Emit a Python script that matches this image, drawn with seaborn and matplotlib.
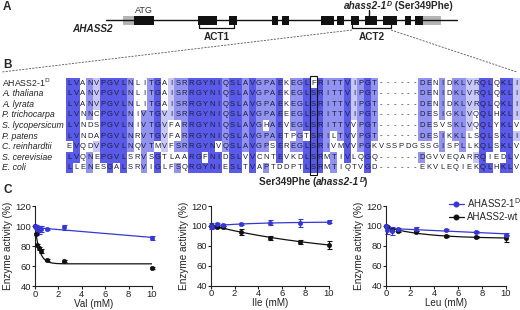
import numpy as np
import matplotlib
matplotlib.use("Agg")
import matplotlib.pyplot as plt
import seaborn as sns
from matplotlib.colors import ListedColormap
from matplotlib.patches import Rectangle
from matplotlib.lines import Line2D
from collections import Counter

# ---- data ----
# gene model (A), positions along the drawn gene
gene_span = [106, 457]
exon_starts = [134, 198, 229, 272, 282, 321, 337, 351, 365, 383, 405, 415]
exon_ends = [154, 217, 237, 278, 289, 334, 344, 359, 377, 397, 411, 423]
utr_starts = [123, 423]
utr_ends = [134, 441]
domain_names = ['ACT1', 'ACT2']
domain_starts = [199, 352]
domain_ends = [234, 391]
mutation_pos = 369

# alignment (B)
species = ['AHASS2-1$^{\\mathrm{D}}$', 'A. thaliana', 'A. lyrata', 'P. trichocarpa',
           'S. lycopersicum', 'P. patens', 'C. reinhardtii', 'S. cerevisiae', 'E. coli']
alignment_seqs = [
    'LVANVPGVLNLITGAISRRGYNIQSLAVGPAEKEGLFRITTVIPGT------DENIDKLVRQLQKLI',
    'LVANVPGVLNLITGAISRRGYNIQSLAVGPAEKEGLSRITTVIPGT------DENIDKLVRQLQKLI',
    'LVANVPGVLNLITGAISRRGYNIQSLAVGPAEKEGLSRITTVIPGT------DENIDKLVRQLQKLI',
    'LVNNCPGVLNIVTGVISRRGYNIQSLAVGPAEEEGLSRITTVIPGT------DESIGKLVQQLHKLI',
    'LVNDSPGVLNIVTGVFARRGYNIQSLAVGHAEVEGLSRITTVVPGT------DESVSKLVQQLYKLV',
    'LVNDAPGVLNRVTGVFARRGYNIQSLAVGPAETPGTSRILTVVPGT------DESIKKLLSQLSKLI',
    'EVQDVPGVLNQVTMVFSRRGYNVQSLAVGPSEREGLSRIVMVVPGKVSSPDGSSGISPLLKQLSKLV',
    'LVQNEPGVLSRVSGTLAARGFNIDSLVVCNTEVKDLSRMTIVLQGQ------DGVVEQARRQIEDLV',
    'LLENESGALSRVIGLFSQRGYNIESLTVAPTDDPTLSRMTIQTVGD------EKVLEQIEKQLHKLV',
]
mutated_column = 36

# enzyme activity (C)
val_conc = [0, 0.1, 0.2, 0.3, 0.5, 1, 2.5, 10]
val_wt = [100, 92, 81, 78, 75, 66, 65, 58]
val_wt_err = [1, 1, 1, 1.5, 2, 1, 1, 1]
val_mut = [100, 99, 97, 96, 97, 97, 99, 88]
val_mut_err = [1, 2, 3, 4, 3, 1, 2.5, 2]

ile_conc = [0, 0.1, 0.5, 1, 2.5, 5, 7.5, 10]
ile_wt = [100, 100, 99, 98.5, 94, 88, 84, 81]
ile_wt_err = [1, 1, 1, 1, 3, 2, 2, 4]
ile_mut = [100, 99, 101.5, 101, 101.5, 103, 103, 104]
ile_mut_err = [3, 1, 1, 1, 1, 2.5, 4, 1.5]

leu_conc = [0, 0.1, 0.5, 1, 2.5, 5, 7.5, 10]
leu_wt = [100, 98.5, 96, 95, 93.5, 90, 88.5, 87.5]
leu_wt_err = [1, 1, 1, 1, 1, 1, 1, 3.5]
leu_mut = [100, 96, 95, 97, 97, 95.5, 94, 91]
leu_mut_err = [1, 4, 4, 1, 2, 1, 1, 1.5]

BLUE = '#3636d6'
BLACK = '#111111'

sns.set_theme(style='ticks')
plt.rcParams['font.family'] = ['Liberation Sans', 'DejaVu Sans']

fig = plt.figure(figsize=(5.2, 3.1), dpi=100)
fig.patch.set_facecolor('white')
W, H = 520, 310


def px_axes(x0, y0, x1, y1):
    return fig.add_axes([x0 / W, 1 - y1 / H, (x1 - x0) / W, (y1 - y0) / H])


# overlay axes in pixel units for diagram + text
ax0 = fig.add_axes([0, 0, 1, 1])
ax0.set_xlim(0, W)
ax0.set_ylim(H, 0)
ax0.axis('off')
renderer = fig.canvas.get_renderer()


def rich(ax, x, y, parts, ha='left', **common):
    # put several styled pieces of text side by side
    texts, cx = [], x
    for s, kw, dy in parts:
        props = dict(common)
        props.update(kw)
        t = ax.text(cx, y + dy, s, va='center', ha='left', **props)
        cx += t.get_window_extent(renderer).width
        texts.append(t)
    if ha == 'center':
        shift = (cx - x) / 2
        for t in texts:
            px, py = t.get_position()
            t.set_x(px - shift)


# panel letters
for lab, yy in zip(['A', 'B', 'C'], [7, 65, 190]):
    ax0.text(3, yy, lab, fontsize=8.5, fontweight='bold', va='center')

# ---- A: gene model ----
ax0.plot(gene_span, [20, 20], color=BLACK, lw=1)
for s, e in zip(utr_starts, utr_ends):
    ax0.add_patch(Rectangle((s, 15.5), e - s, 9, color='#b4b4b4', lw=0))
for s, e in zip(exon_starts, exon_ends):
    ax0.add_patch(Rectangle((s, 15.5), e - s, 9, color=BLACK, lw=0))
ax0.text(144, 10.5, 'ATG', fontsize=6.5, ha='center', va='center', color='#333333')
ax0.text(93, 28.5, 'AHASS2', fontsize=7.2, fontweight='bold', fontstyle='italic',
         ha='center', va='center')
for name, s, e in zip(domain_names, domain_starts, domain_ends):
    ax0.plot([s, s, e, e], [25, 28, 28, 25], color=BLACK, lw=0.9)
    ax0.text((s + e) / 2, 37.5, name, fontsize=7.2, fontweight='bold', ha='center', va='center')
ax0.plot([mutation_pos, mutation_pos], [10, 16], color=BLACK, lw=1)
rich(ax0, 398, 6, [('ahass2-1', dict(fontstyle='italic'), 0),
                   ('D', dict(fontstyle='italic', fontsize=5), -2),
                   (' (Ser349Phe)', {}, 0)], ha='center', fontsize=7.2, fontweight='bold')
ax0.plot([domain_starts[1], 2], [30, 72], color='#555555', lw=0.6, ls=(0, (2.5, 1.5)))
ax0.plot([domain_ends[1], 517], [30, 72], color='#555555', lw=0.6, ls=(0, (2.5, 1.5)))

# ---- B: alignment as heatmap ----
seqs = np.array([list(s) for s in alignment_seqs])
n_rows, n_cols = seqs.shape
levels = np.zeros((n_rows, n_cols))
for j in range(n_cols):
    col = seqs[:, j]
    res = [c for c in col if c != '-']
    if not res:
        continue
    cons, cnt = Counter(res).most_common(1)[0]
    frac = cnt / n_rows
    lvl = 3 if frac > 0.8 else 2 if frac > 0.6 else 1 if frac > 0.4 else 0
    levels[col == cons, j] = lvl

aln_x0, aln_x1, aln_y0, aln_y1 = 66, 520, 77.7, 173.3
axb = px_axes(aln_x0, aln_y0, aln_x1, aln_y1)
cmap = ListedColormap(['#ffffff', '#c8c8f8', '#9292f0', '#5a5ae8'])
sns.heatmap(levels, ax=axb, cmap=cmap, vmin=-0.5, vmax=3.5, cbar=False,
            annot=seqs, fmt='', annot_kws=dict(fontsize=5.5, color='#1c1c38'),
            xticklabels=False, yticklabels=False, linewidths=0)
axb.tick_params(length=0)
axb.add_patch(Rectangle((mutated_column, -0.15), 1, n_rows + 0.3, fill=False,
                        ec=BLACK, lw=0.8, clip_on=False))

row_h = (aln_y1 - aln_y0) / n_rows
for i, name in enumerate(species):
    style = 'normal' if i == 0 else 'italic'
    ax0.text(2, aln_y0 + row_h * (i + 0.5), name, fontsize=6.3, fontstyle=style,
             va='center', ha='left', color='#222222')

col_w = (aln_x1 - aln_x0) / n_cols
rich(ax0, aln_x0 + col_w * (mutated_column + 0.5), 182,
     [('Ser349Phe (', {}, 0), ('ahass2-1', dict(fontstyle='italic'), 0),
      ('D', dict(fontstyle='italic', fontsize=5), -2), (')', {}, 0)],
     ha='center', fontsize=7.2, fontweight='bold')


# ---- C: enzyme activity ----
def decay_fit(x, y):
    x = np.asarray(x, float)
    y = np.asarray(y, float)
    best = None
    for k in np.logspace(-2.5, 1.5, 400):
        A = np.column_stack([np.ones_like(x), np.exp(-k * x)])
        coef = np.linalg.lstsq(A, y, rcond=None)[0]
        sse = ((A @ coef - y) ** 2).sum()
        if best is None or sse < best[0]:
            best = (sse, k, coef)
    xs = np.linspace(0, 10, 200)
    return xs, best[2][0] + best[2][1] * np.exp(-best[1] * xs)


panels = [
    ((35, 206, 152, 286), 'Val (mM)', val_conc, val_wt, val_wt_err, val_mut, val_mut_err),
    ((211, 206, 329, 285.5), 'Ile (mM)', ile_conc, ile_wt, ile_wt_err, ile_mut, ile_mut_err),
    ((386, 206, 506, 285.5), 'Leu (mM)', leu_conc, leu_wt, leu_wt_err, leu_mut, leu_mut_err),
]
axes_c = []
for box, xlabel, conc, wt, wt_err, mut, mut_err in panels:
    ax = px_axes(*box)
    for yv, ev, c in [(wt, wt_err, BLACK), (mut, mut_err, BLUE)]:
        xs, ys = decay_fit(conc, yv)
        sns.lineplot(x=xs, y=ys, ax=ax, color=c, lw=0.9)
        ax.errorbar(conc, yv, yerr=ev, fmt='none', ecolor=c, elinewidth=0.8,
                    capsize=1.8, capthick=0.8, clip_on=False)
        sns.scatterplot(x=conc, y=yv, ax=ax, color=c, s=11, edgecolor=c,
                        linewidth=0.3, clip_on=False, zorder=5)
    ax.set_xlim(0, 10)
    ax.set_ylim(40, 120)
    ax.set_xticks([0, 2, 4, 6, 8, 10])
    ax.set_yticks([40, 60, 80, 100, 120])
    ax.tick_params(labelsize=6.8, length=2, width=0.8, pad=0.8, colors='#222222')
    for sp in ['left', 'bottom']:
        ax.spines[sp].set_linewidth(0.8)
        ax.spines[sp].set_color('#222222')
    sns.despine(ax=ax)
    ax.set_xlabel(xlabel, fontsize=7.1, labelpad=0, color='#222222')
    ax.set_ylabel('Enzyme activity (%)', fontsize=7.2, labelpad=1.5, color='#222222')
    axes_c.append(ax)

handles = [Line2D([], [], color=BLUE, marker='o', ms=3.3, lw=0.9),
           Line2D([], [], color=BLACK, marker='o', ms=3.3, lw=0.9)]
axes_c[2].legend(handles, ['AHASS2-1$^{\\mathrm{D}}$', 'AHASS2-wt'], loc='upper left',
                 bbox_to_anchor=(449 / W, 1 - 196 / H), bbox_transform=fig.transFigure,
                 frameon=False, fontsize=7, handlelength=1.5, handletextpad=0.4,
                 borderpad=0, labelspacing=0.25, borderaxespad=0)

fig.savefig('out.png', dpi=100, facecolor='white')
